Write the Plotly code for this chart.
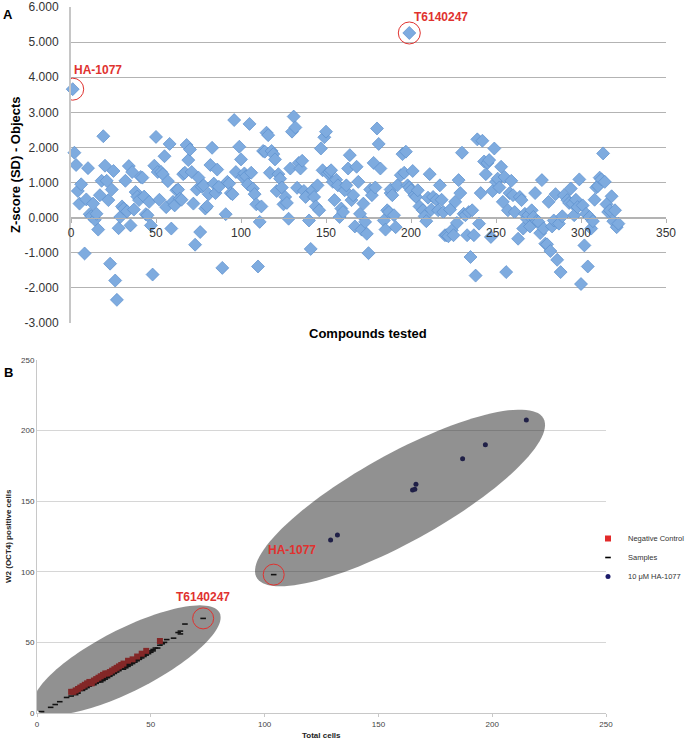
import numpy as np
import plotly.graph_objects as go

# ---------------- Panel A data: compound index vs Z-score ----------------
compound_idx = [
    1, 2, 3, 4, 5, 6, 8, 9, 10, 11, 12, 13, 14, 15, 16, 17, 18, 19, 20, 21, 22, 23, 24, 25, 26, 27, 28, 29, 30,
    31, 32, 33, 34, 35, 36, 37, 38, 39, 40, 41, 42, 43, 44, 45, 46, 47, 48, 49, 50, 51, 52, 53, 54, 55, 56, 57,
    58, 59, 60, 61, 62, 63, 64, 65, 66, 67, 68, 69, 70, 71, 72, 73, 74, 75, 76, 77, 78, 79, 80, 81, 82, 83, 84,
    85, 86, 87, 89,
    91, 92, 93, 94, 95, 96, 97, 99, 100, 101, 102, 103, 104, 105, 106, 107, 108, 109, 110, 111, 112, 113, 114,
    115, 116, 117, 118, 119, 120, 121, 122, 123, 124, 125, 126, 127, 128, 129, 130, 131, 132, 133, 134, 135, 136,
    137, 138, 140, 141, 142, 143, 144, 145, 146, 147, 148, 149, 150, 151, 152, 153, 154, 155, 156, 157, 158, 159,
    160, 161, 162, 163, 164, 165, 166, 167, 168, 169, 170, 171, 172, 173, 174, 175, 176, 177, 178, 179, 180, 181,
    182,
    184, 185, 186, 187, 188, 188, 189, 190, 191, 192, 194, 195, 196, 197, 198, 199, 199, 200, 201, 202, 203, 204,
    205, 207, 208, 209, 210, 211, 212, 213, 215, 216, 217, 218, 219, 220, 221, 222, 223, 224, 225, 226, 227, 228,
    229, 230, 231, 232, 233, 234, 235, 236, 237, 238, 239, 240, 241, 242, 243, 244, 245, 246, 247, 248, 249, 250,
    251, 252, 253, 254, 255, 256, 257, 258, 259, 260, 261, 263, 264, 265, 266, 267, 268, 269, 270, 271, 273,
    272, 274, 275, 276, 277, 278, 279, 280, 281, 282, 283, 284, 285, 286, 287, 288, 289, 290, 292, 293, 294, 295,
    296, 297, 298, 299, 300, 301, 302, 303, 304, 305, 306, 307, 308, 309, 310, 311, 312, 313, 314, 315, 316, 317,
    318, 319, 320, 321, 322,
]
z_score = [
    3.66, 1.85, 1.50, 0.76, 0.40, 0.95, -1.02, 0.52, 1.41, 0.10, 0.04, 0.40, -0.06, 0.11, -0.34, 0.64, 1.05, 2.32,
    1.48, 1.05, 0.50, -1.31, 0.80, 1.33, -1.79, -2.34, -0.30, 0.02, 0.32, 0.26, 1.05, 0.18, 1.47, -0.22, 1.30,
    0.23, 0.73, 0.60, 0.50, 1.16, 1.14, 0.60, 0.10, 0.07, 0.45, -0.22, -1.62, 1.48, 2.30, 1.30, 0.51, 1.30, 1.24,
    1.75, 0.30, 1.04, 2.10, -0.31, 0.45, 0.35, 0.78, 0.80, 0.54, 0.51, 1.24, 1.28, 2.07, 1.64, 1.94, 1.30, 0.40,
    -0.77, 0.80, 1.14, -0.41, 0.88, 0.92, 0.26, 0.32, 0.67, 1.50, 1.99, 0.97, 0.70, 1.37, 0.88, -1.43,
    0.10, 1.02, 0.97, 0.70, 0.67, 2.78, 1.30, 2.02, 1.66, 1.16, 1.26, 1.18, 0.95, 2.67, 1.28, 0.83, 0.67, 0.38,
    -1.39, -0.12, 0.32, 1.90, 1.88, 2.42, 2.35, 1.28, 1.90, 1.81, 1.66, 0.76, 1.24, 1.11, 0.86, 0.38, 0.59, 0.42,
    -0.03, 1.40, 2.45, 2.88, 2.57, 0.85, 1.56, 1.40, 1.62, 0.76, 0.59, -0.08, -0.89, 0.78, 0.59, 0.32, 0.92, 0.21,
    1.97, 1.35, 2.29, 2.45, 1.26, 1.30, 1.35, 1.02, 0.50, 1.08, 0.92, 0.02, 0.26, 0.16, 0.78, 0.92, 1.40, 1.78,
    0.50, 0.64, -0.25, 1.45, 1.02, 0.11, -0.34, 0.40, -0.12, -0.46, -1.01, 0.80, 0.64, 1.56, 0.86, 2.54, 2.10,
    1.40,
    -0.08, -0.34, 0.21, 0.16, 0.70, 0.80, 0.64, 0.07, -0.27, 0.92, 1.21, 1.81, 1.28, 1.88, 0.92, 5.26, 0.86, 0.78,
    1.33, 0.64, 0.59, 0.78, 0.32, 0.21, 0.04, -0.10, 0.57, 1.24, 0.23, 0.59, 0.51, 0.21, 0.92, 0.51, 0.16, -0.50,
    -0.50, -0.53, 0.23, -0.36, -0.50, 0.45, -0.15, 1.07, 0.70, 1.85, 0.11, 0.07, -0.50, 0.16, -1.12, 0.21, -0.50,
    -1.65, 2.23, -0.17, 0.70, 2.19, 1.60, 1.24, 1.56, 1.64, -0.55, 0.76, 1.97, 1.02, 1.11, 0.86, 1.45, 0.45, 1.16,
    -1.55, 0.21, 0.70, 1.05, 0.64, 0.16, -0.60, 0.59, 0.50, -0.31, 0.11, -0.03, 0.07, -0.25, 0.21, 0.70,
    0.02, -0.10, -0.12, -0.44, 1.07, -0.31, -0.74, -0.76, 0.45, -0.95, -0.25, -0.08, 0.67, -1.20, -0.17, -1.55,
    0.04, 0.64, 0.50, 0.42, 0.83, 0.40, 0.07, 0.51, 0.30, 1.09, -1.89, 0.35, -0.79, 0.11, -1.39, 0.02, -0.31,
    -0.10, 0.51, 0.86, 0.90, 1.14, 1.09, 1.83, 1.02, 0.38, 0.16, 0.21, 0.61, -0.10, 0.21, -0.27, -0.17,
]

a_xticks = [0, 50, 100, 150, 200, 250, 300, 350]
a_yticks = [-3, -2, -1, 0, 1, 2, 3, 4, 5, 6]
a_hits = {"HA-1077": (1, 3.66), "T6140247": (199, 5.26)}

# ---------------- Panel B data: total cells vs W2 (OCT4) positive cells ----------------
ctrl_total = [15, 16, 17, 18, 19, 20, 21, 22, 23, 24, 24, 25, 26, 27, 28, 29, 30, 31, 32, 33, 34, 35, 36, 37,
              38, 40, 42, 44, 46, 48, 54]
ctrl_pos = [15, 15, 16, 17, 18, 19, 20, 21, 22, 22, 21, 23, 24, 25, 26, 27, 28, 28, 29, 30, 31, 32, 33, 34,
            35, 37, 38, 40, 42, 44, 51]

samp_total = [2, 6, 8, 10, 13, 15, 16, 17, 18, 18, 19, 20, 20, 21, 21, 22, 22, 23, 23, 24, 24, 25, 25, 25, 26,
              26, 27, 27, 27, 28, 28, 28, 29, 29, 29, 30, 30, 30, 31, 31, 31, 32, 32, 32, 33, 33, 33, 34, 34, 34,
              35, 35, 35, 36, 36, 36, 37, 37, 37, 38, 38, 38, 39, 39, 39, 40, 40, 40, 41, 41, 41, 42, 42, 42, 43,
              43, 44, 44, 45, 45, 46, 46, 47, 47, 48, 48, 49, 49, 50, 50, 51, 51, 52, 53, 54, 55, 56, 57, 60, 62,
              63, 63, 65, 73, 104]
samp_pos = [1, 4, 6, 8, 11, 12, 14, 13, 15, 14, 16, 16, 17, 17, 18, 18, 19, 19, 20, 20, 21, 21, 22, 20, 22,
            21, 23, 22, 24, 23, 24, 22, 24, 25, 23, 25, 26, 24, 26, 27, 25, 27, 28, 26, 28, 27, 29, 29, 28, 30,
            30, 29, 31, 31, 30, 32, 31, 32, 33, 32, 33, 31, 33, 34, 32, 34, 35, 33, 35, 36, 34, 36, 37, 35, 37,
            36, 38, 37, 39, 38, 40, 39, 41, 40, 42, 41, 43, 42, 44, 43, 45, 44, 46, 46, 48, 49, 50, 52, 53, 57,
            56, 58, 63, 67, 98]

ha_total = [129, 132, 165, 166, 166.5, 187, 197, 215]
ha_pos = [122.5, 126, 158, 158.5, 162, 180, 190, 207.5]

b_ticks = [0, 50, 100, 150, 200, 250]
b_hits = {"T6140247": (73, 67), "HA-1077": (104, 98)}

# ---------------- layout geometry ----------------
W, H = 687, 741
A_x = [71 / W, 666 / W]
A_y = [1 - 323 / H, 1 - 7 / H]
B_x = [37 / W, 606 / W]
B_y = [1 - 713 / H, 1 - 360 / H]
A_zero_pos = A_y[0] + (0 - (-3)) / 9 * (A_y[1] - A_y[0])

FONT = "Liberation Sans, Arial, sans-serif"
RED = "#e0322f"

fig = go.Figure()

fig.add_trace(go.Scatter(
    x=compound_idx, y=z_score, mode="markers", xaxis="x", yaxis="y", showlegend=False,
    cliponaxis=False,
    marker=dict(symbol="diamond", size=10, color="#7eabdf", line=dict(color="#5b8fcd", width=0.7)),
))

fig.add_trace(go.Scatter(
    x=samp_total, y=samp_pos, mode="markers", xaxis="x2", yaxis="y2", name="Samples", legendrank=2,
    cliponaxis=False, marker=dict(symbol="line-ew", size=4, color="black", line=dict(color="black", width=1.6)),
))
fig.add_trace(go.Scatter(
    x=ctrl_total, y=ctrl_pos, mode="markers", xaxis="x2", yaxis="y2", name="Negative Control", legendrank=1,
    cliponaxis=False, marker=dict(symbol="square", size=6, color="#e22a2a", line=dict(width=0)),
))
fig.add_trace(go.Scatter(
    x=ha_total, y=ha_pos, mode="markers", xaxis="x2", yaxis="y2", name="10 μM HA-1077", legendrank=3,
    cliponaxis=False, marker=dict(symbol="circle", size=5, color="#1c1c6b", line=dict(width=0)),
))

# ---------------- shapes ----------------
shapes = []

def ellipse_path(cx, cy, a_px, b_px, ang_deg, sx, sy, n=120):
    t = np.linspace(0, 2 * np.pi, n)
    th = np.deg2rad(ang_deg)
    dxp = a_px * np.cos(t) * np.cos(th) - b_px * np.sin(t) * np.sin(th)
    dyp = a_px * np.cos(t) * np.sin(th) + b_px * np.sin(t) * np.cos(th)
    xs = cx + dxp / sx
    ys = cy + dyp / sy
    return "M " + " L ".join(f"{x:.3f},{y:.3f}" for x, y in zip(xs, ys)) + " Z"

sxB = (B_x[1] - B_x[0]) * W / 250.0
syB = (B_y[1] - B_y[0]) * H / 250.0
for (cx, cy, a_px, b_px, ang) in [(39.5, 37.5, 104, 31, 27), (159.5, 152.3, 164, 44, 29)]:
    shapes.append(dict(type="path", xref="x2", yref="y2", path=ellipse_path(cx, cy, a_px, b_px, ang, sxB, syB),
                       fillcolor="rgba(35,35,35,0.5)", line=dict(width=0), layer="above"))

def red_circle(xref, yref, x, y, r):
    return dict(type="circle", xref=xref, yref=yref, xsizemode="pixel", ysizemode="pixel",
                xanchor=x, yanchor=y, x0=-r, x1=r, y0=-r, y1=r,
                line=dict(color=RED, width=1), fillcolor="rgba(0,0,0,0)", layer="above")

for nm, (hx, hy) in a_hits.items():
    shapes.append(red_circle("x", "y", hx, hy, 11))
for nm, (hx, hy) in b_hits.items():
    shapes.append(red_circle("x2", "y2", hx, hy, 10.5))

# ---------------- annotations ----------------
ann = []
ann.append(dict(text="<b>A</b>", x=8 / W, y=1 - 15 / H, xref="paper", yref="paper", showarrow=False,
                xanchor="center", yanchor="middle", font=dict(size=13, color="black", family=FONT)))
ann.append(dict(text="<b>B</b>", x=8 / W, y=1 - 372 / H, xref="paper", yref="paper", showarrow=False,
                xanchor="center", yanchor="middle", font=dict(size=13, color="black", family=FONT)))
ann.append(dict(text="<b>Compounds tested</b>", x=368 / W, y=1 - 333 / H, xref="paper", yref="paper",
                showarrow=False, xanchor="center", yanchor="middle", font=dict(size=13, color="black", family=FONT)))
ann.append(dict(text="<b>Z-score (SD) - Objects</b>", x=15 / W, y=1 - 165 / H, xref="paper", yref="paper",
                showarrow=False, textangle=-90, xanchor="center", yanchor="middle",
                font=dict(size=13, color="black", family=FONT)))
ann.append(dict(text="<b>Total cells</b>", x=321 / W, y=1 - 735 / H, xref="paper", yref="paper",
                showarrow=False, xanchor="center", yanchor="middle", font=dict(size=8, color="#222", family=FONT)))
ann.append(dict(text="<b>W2 (OCT4) positive cells</b>", x=8 / W, y=1 - 536 / H, xref="paper", yref="paper",
                showarrow=False, textangle=-90, xanchor="center", yanchor="middle",
                font=dict(size=8, color="#222", family=FONT)))

a_label_shift = {"HA-1077": (25, 19), "T6140247": (32, 16)}
for nm, (hx, hy) in a_hits.items():
    dx, dy = a_label_shift[nm]
    ann.append(dict(text=f"<b>{nm}</b>", x=hx, y=hy, xref="x", yref="y", showarrow=False, xshift=dx, yshift=dy,
                    font=dict(size=12, color=RED, family=FONT)))
b_label_shift = {"T6140247": (0, 21), "HA-1077": (18, 25)}
for nm, (hx, hy) in b_hits.items():
    dx, dy = b_label_shift[nm]
    ann.append(dict(text=f"<b>{nm}</b>", x=hx, y=hy, xref="x2", yref="y2", showarrow=False, xshift=dx, yshift=dy,
                    font=dict(size=12, color=RED, family=FONT)))

# ---------------- axes ----------------
fig.update_layout(
    width=W, height=H,
    margin=dict(l=0, r=0, t=0, b=0, autoexpand=False),
    paper_bgcolor="white", plot_bgcolor="white",
    font=dict(family=FONT),
    shapes=shapes, annotations=ann,
    xaxis=dict(domain=A_x, range=[0, 350], anchor="free", position=A_zero_pos,
               tickvals=a_xticks, ticktext=[str(v) for v in a_xticks],
               showgrid=False, zeroline=False, showline=True, linecolor="#b3b3b3", linewidth=1,
               ticks="outside", ticklen=4, tickcolor="#b3b3b3",
               tickfont=dict(size=12, color="#333", family=FONT)),
    yaxis=dict(domain=A_y, range=[-3, 6], anchor="x",
               tickvals=a_yticks, ticktext=[f"{v:.3f}" for v in a_yticks],
               showgrid=True, gridcolor="#b3b3b3", gridwidth=1, zeroline=False,
               showline=True, linecolor="#c6c6c6", linewidth=2, ticks="", ticklabelstandoff=8,
               tickfont=dict(size=12, color="#333", family=FONT)),
    xaxis2=dict(domain=B_x, range=[0, 250], anchor="y2",
                tickvals=b_ticks, ticktext=[str(v) for v in b_ticks],
                showgrid=False, zeroline=False, showline=True, linecolor="#c8c8c8", linewidth=1,
                ticks="outside", ticklen=3, tickcolor="#c8c8c8",
                tickfont=dict(size=8, color="#444", family=FONT)),
    yaxis2=dict(domain=B_y, range=[0, 250], anchor="x2",
                tickvals=b_ticks, ticktext=[str(v) for v in b_ticks],
                showgrid=True, gridcolor="#d6d6d6", gridwidth=1, zeroline=False,
                showline=True, linecolor="#c8c8c8", linewidth=1, ticks="",
                tickfont=dict(size=8, color="#444", family=FONT)),
    legend=dict(x=588 / W, y=1 - 524 / H, xanchor="left", yanchor="top", bgcolor="rgba(0,0,0,0)",
                font=dict(size=7.5, color="#333", family=FONT), itemwidth=30, tracegroupgap=0),
)

fig.write_html("out.html", config={"displayModeBar": False},
               post_script="document.body.style.margin='0px';")
